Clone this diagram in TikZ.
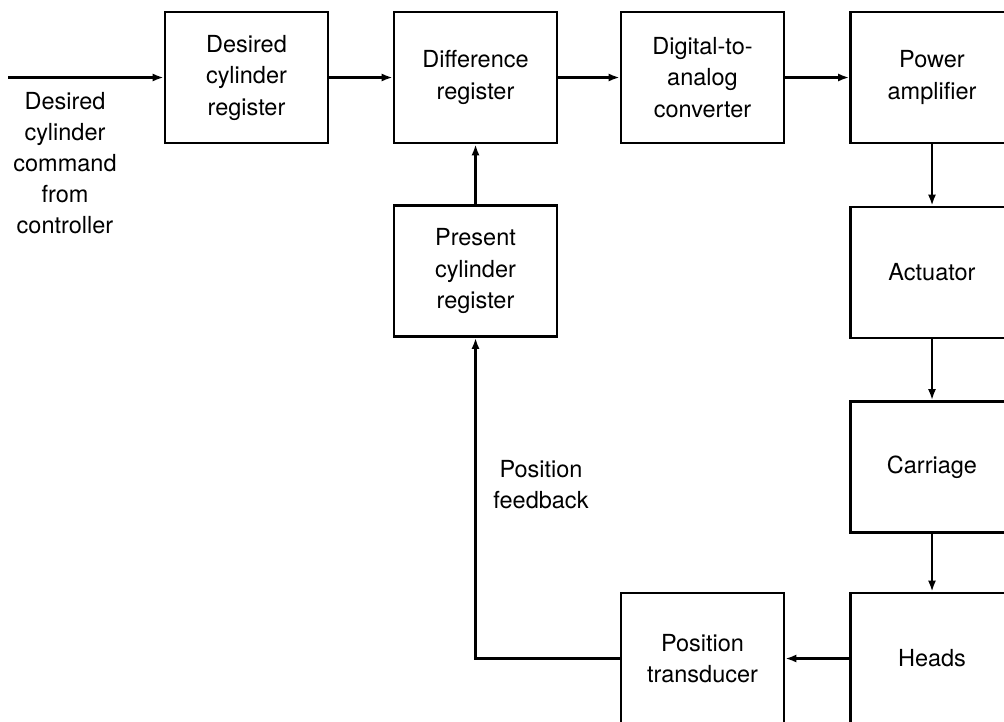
\documentclass[tikz,border=0pt]{standalone}
\usepackage{fontspec}
\setmainfont{TeX Gyre Heros}
\usetikzlibrary{arrows.meta,positioning}

\tikzset{
  block/.style={draw,rectangle,line width=2.6pt,minimum width=163pt,minimum height=131pt,
    inner sep=0pt,align=center,font=\fontsize{23.5}{31.5}\selectfont},
  tag/.style={align=center,font=\fontsize{23.5}{31}\selectfont},
  link/.style={line width=2.6pt,-{Latex[length=11pt,width=8pt]}}
}

\begin{document}
\begin{tikzpicture}[x=1pt,y=-1pt]
\clip (0,0) rectangle (1004,721);

% Top row: registers and converter
\node[block] (dcr) at (246.5,77.5) {Desired\\cylinder\\register};
\node[block] (diff) at (475.5,77.5) {Difference\\register};
\node[block] (dac) at (702.5,77.5) {Digital-to-\\analog\\converter};
\node[block] (pamp) at (932,77.5) {Power\\amplifier};

% Right column: mechanics
\node[block] (act) at (932,272.5) {Actuator};
\node[block] (carr) at (932,467) {Carriage};
\node[block] (heads) at (932,658.5) {Heads};

% Feedback path
\node[block] (ptr) at (702.5,658.5) {Position\\transducer};
\node[block] (pcr) at (475.5,271) {Present\\cylinder\\register};

% Labels
\coordinate (cmdin) at (8,77.5);
\node[tag] (cmd) at (65,163) {Desired\\cylinder\\command\\from\\controller};
\node[tag] (fb) at (541,485) {Position\\feedback};

% Arrows
\draw[link] (cmdin) -- (dcr);
\draw[link] (dcr) -- (diff);
\draw[link] (diff) -- (dac);
\draw[link] (dac) -- (pamp);
\draw[link] (pamp) -- (act);
\draw[link] (act) -- (carr);
\draw[link] (carr) -- (heads);
\draw[link] (heads) -- (ptr);
\draw[link] (ptr.west) -| (pcr.south);
\draw[link] (pcr) -- (diff);

\end{tikzpicture}
\end{document}
